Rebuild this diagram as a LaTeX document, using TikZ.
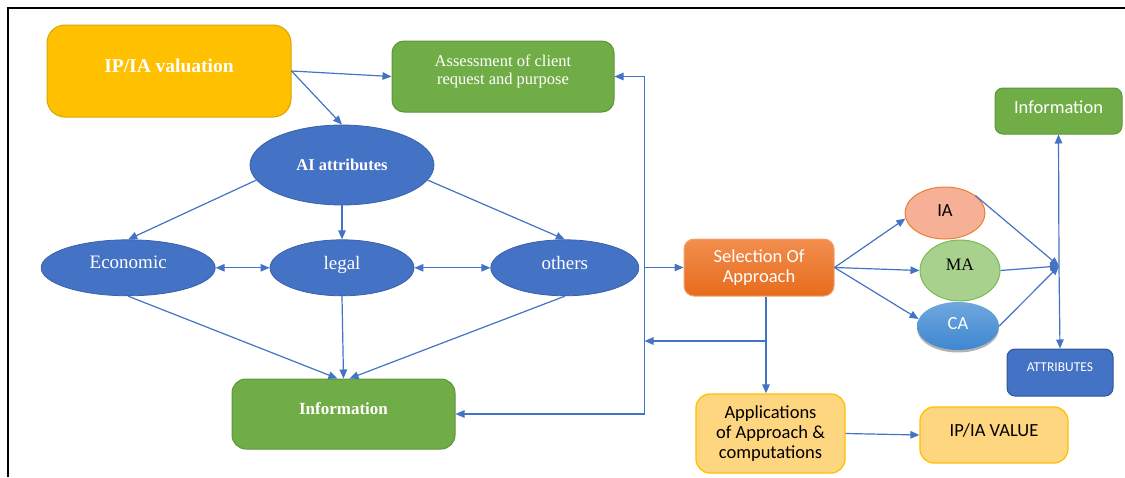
\documentclass[tikz,border=0pt]{standalone}
\usepackage{fontspec}
\setmainfont{Liberation Serif}
\newfontfamily\calibri{Carlito}
\usetikzlibrary{shapes.geometric,arrows.meta,positioning,shadows}
\definecolor{ipyellow}{HTML}{FFC000}
\definecolor{ipyellowdark}{HTML}{D9A400}
\definecolor{leafgreen}{HTML}{70AD47}
\definecolor{leafgreendark}{HTML}{5B9638}
\definecolor{attrblue}{HTML}{4472C4}
\definecolor{attrbluedark}{HTML}{3A62AB}
\definecolor{linkblue}{HTML}{4472C4}
\definecolor{selTop}{HTML}{F28E4E}
\definecolor{selBot}{HTML}{E66C1C}
\definecolor{selDraw}{HTML}{F4A273}
\definecolor{iaFill}{HTML}{F5B095}
\definecolor{iaDraw}{HTML}{ED7D31}
\definecolor{maFill}{HTML}{A9D18E}
\definecolor{maDraw}{HTML}{7DB954}
\definecolor{caTop}{HTML}{6FA7DE}
\definecolor{caBot}{HTML}{3E87D0}
\definecolor{appFill}{HTML}{FFD680}
\definecolor{appDraw}{HTML}{FFC000}
\definecolor{attrBox}{HTML}{4472C4}
\definecolor{attrBoxDraw}{HTML}{2F5597}
\tikzset{
  basebox/.style={rectangle,rounded corners=12pt,align=center,inner sep=2pt,line width=1pt},
  lift/.style={text height=12pt,text depth=#1},
  ipiabox/.style={basebox,fill=ipyellow,draw=ipyellowdark,rounded corners=18pt,text=white,font=\bfseries\fontsize{19.5}{22}\selectfont},
  greenbox/.style={basebox,fill=leafgreen,draw=leafgreendark,text=white},
  attrnode/.style={ellipse,fill=attrblue,draw=attrbluedark,line width=0.8pt,inner sep=0pt,text=white,font=\fontsize{19}{21}\selectfont},
  selbox/.style={basebox,top color=selTop,bottom color=selBot,draw=selDraw,rounded corners=10pt,text=white,font=\calibri\fontsize{18.5}{20}\selectfont},
  ianode/.style={ellipse,fill=iaFill,draw=iaDraw,line width=1pt,inner sep=0pt,font=\calibri\fontsize{18.5}{20}\selectfont},
  manode/.style={ellipse,fill=maFill,draw=maDraw,line width=1pt,inner sep=0pt,font=\fontsize{17.5}{20}\selectfont},
  canode/.style={ellipse,top color=caTop,bottom color=caBot,draw=none,inner sep=0pt,text=white,font=\calibri\fontsize{18.5}{20}\selectfont,
    drop shadow={shadow xshift=0pt,shadow yshift=-2.5pt,opacity=0.3,fill=black}},
  appbox/.style={basebox,fill=appFill,draw=appDraw,line width=1.3pt,rounded corners=14pt,font=\calibri\fontsize{18.5}{20}\selectfont},
  attrbox/.style={basebox,fill=attrBox,draw=attrBoxDraw,rounded corners=8pt,text=white,font=\calibri\fontsize{13.5}{16}\selectfont},
  arr/.style={-{Triangle[length=9pt,width=7.5pt]},line width=1.2pt,color=linkblue},
  dblarr/.style={{Triangle[length=9pt,width=7.5pt]}-{Triangle[length=9pt,width=7.5pt]},line width=1.2pt,color=linkblue},
  frameline/.style={line width=2.5pt,black}
}

\begin{document}
\begin{tikzpicture}[x=1pt,y=-1pt]
  \useasboundingbox (0,0) rectangle (1125,477);
  \draw[frameline] (8,477) -- (8,8) -- (1125,8);

  %% Valuation and attributes
  \node[ipiabox,minimum width=244pt,minimum height=92pt,lift=10pt] (ipia) at (169,71) {IP/IA valuation};
  \node[greenbox,minimum width=222pt,minimum height=71pt,font=\fontsize{16.5}{18}\selectfont,text depth=14pt] (assess) at (503,76.5)
    {Assessment of client\\request and purpose};
  \node[attrnode,minimum width=184pt,minimum height=80pt,font=\bfseries\fontsize{16.5}{19}\selectfont] (aiattr) at (342,165) {AI attributes};
  \node[attrnode,minimum width=144pt,minimum height=56pt,below=34pt of aiattr,lift=8pt] (legal) {legal};
  \node[attrnode,minimum width=174pt,minimum height=56pt,left=54pt of legal,lift=10pt] (econ) {Economic};
  \node[attrnode,minimum width=148pt,minimum height=56pt,right=76pt of legal,lift=8pt] (others) {others};
  \node[greenbox,minimum width=223pt,minimum height=70pt,rounded corners=14pt,font=\bfseries\fontsize{17}{19}\selectfont,lift=12pt] (infoL) at (343.5,414) {Information};

  %% Approach and results
  \node[selbox,minimum width=150pt,minimum height=57pt] (select) at (759,267.5) {Selection Of\\Approach};
  \node[ianode,minimum width=80pt,minimum height=52pt,lift=6pt] (ia) at (945,213) {IA};
  \node[manode,minimum width=80pt,minimum height=61pt,lift=12pt] (ma) at (960,270.5) {MA};
  \node[canode,minimum width=82pt,minimum height=48pt,lift=6pt] (ca) at (958,326) {CA};
  \node[greenbox,minimum width=127pt,minimum height=46pt,rounded corners=8pt,font=\calibri\fontsize{18.5}{20}\selectfont,lift=8pt] (infoR) at (1058.5,111) {Information};
  \node[attrbox,minimum width=106pt,minimum height=47pt,lift=15pt] (attrib) at (1060,372.5) {ATTRIBUTES};
  \node[appbox,minimum width=149pt,minimum height=79pt] (apps) at (770.5,433.5) {Applications\\of Approach \&\\computations};
  \node[appbox,minimum width=148pt,minimum height=56pt,lift=10pt] (value) at (994,435) {IP/IA VALUE};

  \coordinate[left=39pt of select.west] (bus);
  \coordinate (split) at (766,341);
  \coordinate (hub) at (1059,266);

  \draw[arr] (ipia.east) -- (assess.west);
  \draw[arr] (ipia.east) -- (aiattr.north);
  \draw[arr] (aiattr.190) -- (econ.north);
  \draw[arr] (aiattr.south) -- (legal.north);
  \draw[arr] (aiattr.350) -- (others.north);
  \draw[dblarr] (econ.east) -- (legal.west);
  \draw[dblarr] (legal.east) -- (others.west);
  \draw[arr] (econ.south) -- ([xshift=-6pt]infoL.north);
  \draw[arr] (legal.south) -- (infoL.north);
  \draw[arr] (others.south) -- ([xshift=6pt]infoL.north);

  \draw[arr] (bus) |- (assess.east);
  \draw[arr] (bus) |- (infoL.east);
  \draw[arr] (bus) -- (select.west);
  \draw[arr] ([xshift=7pt]select.south) -- ([xshift=-4.5pt]apps.north);
  \draw[arr] (split) -- (split -| bus);

  \draw[arr] (select.east) -- (ia.188);
  \draw[arr] (select.east) -- (ma.west);
  \draw[arr] (select.east) -- (ca.170);
  \draw[arr] (ia.30) -- (hub);
  \draw[arr] (ma.east) -- (hub);
  \draw[arr] (ca.east) -- (hub);
  \draw[arr] (hub) -- (infoR.south);
  \draw[arr] (hub) -- (attrib.north);
  \draw[arr] (apps.east) -- (value.west);
\end{tikzpicture}
\end{document}
